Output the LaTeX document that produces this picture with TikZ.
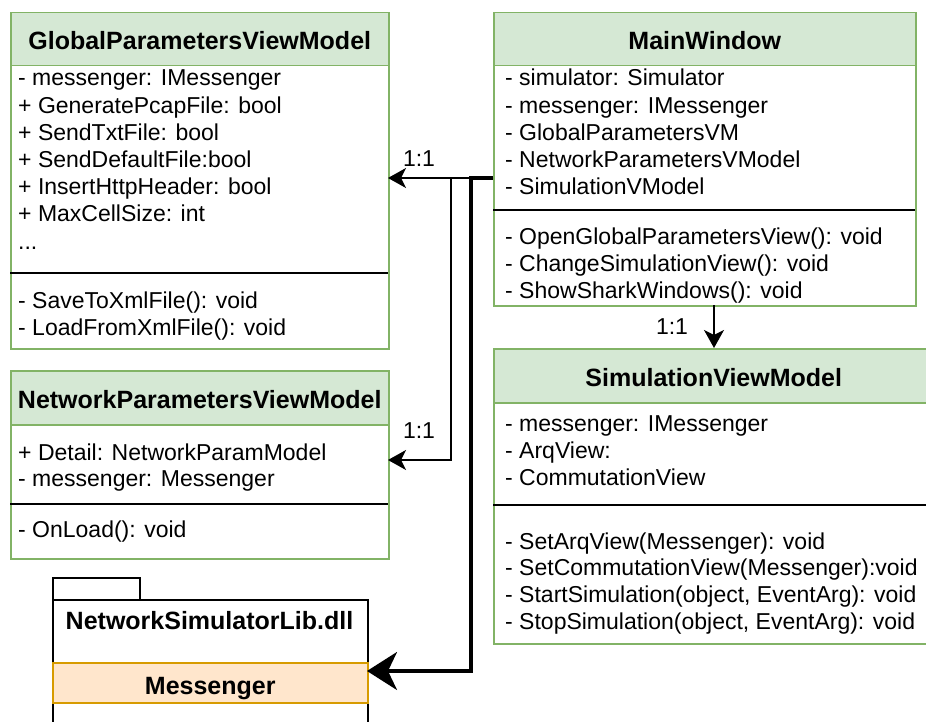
\documentclass[tikz,border=0pt]{standalone}
\usepackage{fontspec}
\setmainfont{Liberation Sans}
\usetikzlibrary{arrows.meta}
\definecolor{hdrfill}{HTML}{D5E8D4}
\definecolor{hdrline}{HTML}{82B366}
\definecolor{msgfill}{HTML}{FFE6CC}
\definecolor{msgline}{HTML}{D79B00}
\begin{document}
\begin{tikzpicture}[x=1pt,y=-1pt,
  font=\fontsize{23}{27}\selectfont,
  classbox/.style={draw=hdrline, line width=1.5pt, fill=white, rectangle, anchor=north west, inner sep=0pt},
  hdr/.style={draw=hdrline, line width=1.5pt, fill=hdrfill, rectangle, anchor=north west, inner sep=0pt,
    text height=21pt, text depth=0pt, font=\fontsize{25}{29}\selectfont\bfseries},
  row/.style={anchor=base west, inner sep=0pt},
  sepline/.style={draw=black, line width=1.5pt},
  pkg/.style={draw=black, line width=1.5pt, fill=white, rectangle, anchor=north west, inner sep=0pt},
  msgbox/.style={draw=msgline, line width=1.5pt, fill=msgfill, rectangle, anchor=north west, inner sep=0pt,
    text height=24pt, text depth=0pt, font=\fontsize{25}{29}\selectfont\bfseries},
  lbl/.style={inner sep=0pt},
  link/.style={draw=black, line width=1.6pt, -{Stealth[length=18pt,width=20pt,inset=5pt]}},
  biglink/.style={draw=black, line width=3.5pt, -{Stealth[length=30pt,width=38pt,inset=9pt]}}
]
\useasboundingbox (0,0) rectangle (926,722);
\clip (0,0) rectangle (926,722);

% GlobalParametersViewModel
\node[classbox, minimum width=378pt, minimum height=336pt] (gp) at (10,12) {};
\node[hdr, minimum width=378pt, minimum height=53pt] (gph) at (10,12) {GlobalParametersViewModel};
\node[row] (gpa1) at (18,86) {- messenger: IMessenger};
\node[row] (gpa2) at (18,113.2) {+ GeneratePcapFile: bool};
\node[row] (gpa3) at (18,140.4) {+ SendTxtFile: bool};
\node[row] (gpa4) at (18,167.6) {+ SendDefaultFile:bool};
\node[row] (gpa5) at (18,194.8) {+ InsertHttpHeader: bool};
\node[row] (gpa6) at (18,222) {+ MaxCellSize: int};
\node[row] (gpa7) at (18,249.2) {...};
\draw[sepline] (10,273) -- (388,273);
\node[row] (gpm1) at (18,308) {- SaveToXmlFile(): void};
\node[row] (gpm2) at (18,335) {- LoadFromXmlFile(): void};

% NetworkParametersViewModel
\node[classbox, minimum width=378pt, minimum height=188pt] (np) at (10,370) {};
\node[hdr, minimum width=378pt, minimum height=54pt] (nph) at (10,370) {NetworkParametersViewModel};
\node[row] (npa1) at (18,460) {+ Detail: NetworkParamModel};
\node[row] (npa2) at (18,486.5) {- messenger: Messenger};
\draw[sepline] (10,504) -- (388,504);
\node[row] (npm1) at (18,537) {- OnLoad(): void};

% MainWindow
\node[classbox, minimum width=422pt, minimum height=293pt] (mw) at (493,12) {};
\node[hdr, minimum width=422pt, minimum height=53pt] (mwh) at (493,12) {MainWindow};
\node[row] (mwa1) at (505,86) {- simulator: Simulator};
\node[row] (mwa2) at (505,113.2) {- messenger: IMessenger};
\node[row] (mwa3) at (505,140.4) {- GlobalParametersVM};
\node[row] (mwa4) at (505,167.6) {- NetworkParametersVModel};
\node[row] (mwa5) at (505,194.8) {- SimulationVModel};
\draw[sepline] (493,210) -- (915,210);
\node[row] (mwm1) at (505,244) {- OpenGlobalParametersView(): void};
\node[row] (mwm2) at (505,271) {- ChangeSimulationView(): void};
\node[row] (mwm3) at (505,298) {- ShowSharkWindows(): void};

% SimulationViewModel
\node[classbox, minimum width=440pt, minimum height=295pt] (sv) at (493,348) {};
\node[hdr, minimum width=440pt, minimum height=54pt] (svh) at (493,348) {SimulationViewModel};
\node[row] (sva1) at (505,431) {- messenger: IMessenger};
\node[row] (sva2) at (505,458) {- ArqView:};
\node[row] (sva3) at (505,485) {- CommutationView};
\draw[sepline] (493,505) -- (933,505);
\node[row] (svm1) at (505,549) {- SetArqView(Messenger): void};
\node[row] (svm2) at (505,575.7) {- SetCommutationView(Messenger):void};
\node[row] (svm3) at (505,602.4) {- StartSimulation(object, EventArg): void};
\node[row] (svm4) at (505,629.1) {- StopSimulation(object, EventArg): void};

% Package NetworkSimulatorLib.dll
\node[pkg, minimum width=87pt, minimum height=22pt] (tab) at (52,577) {};
\node[pkg, minimum width=315pt, minimum height=160pt] (pkgbody) at (52,599) {};
\node[lbl, font=\fontsize{25}{29}\selectfont\bfseries, text height=18pt, text depth=0pt] (pkgname) at (209.5,620) {NetworkSimulatorLib.dll};
\node[msgbox, minimum width=315pt, minimum height=40pt] (msg) at (52,662) {Messenger};

% connectors
\coordinate (mwL) at (493,178);
\coordinate (j2) at (451,178);
\coordinate (j3) at (471,178);
\coordinate (gpin) at (388,178);
\coordinate (npin) at (388,460);
\coordinate (msgin) at (367,671);
\coordinate (mwB) at (714,305);
\coordinate (svT) at (714,348);

\draw[link] (mwL) -- (gpin);
\draw[link] (mwL) -- (j2) |- (npin);
\draw[biglink] (mwL) -- (j3) |- (msgin);
\draw[link] (mwB) -- (svT);

\node[lbl] (l1) at (419,159) {1:1};
\node[lbl] (l2) at (419,431) {1:1};
\node[lbl] (l3) at (672,327) {1:1};
\end{tikzpicture}
\end{document}
